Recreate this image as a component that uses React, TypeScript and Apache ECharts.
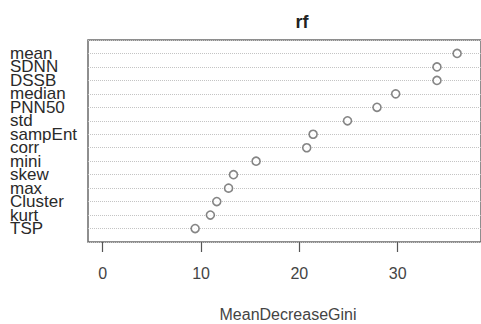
import React, { useEffect, useRef } from "react";
import * as echarts from "echarts";

const variables = ["mean", "SDNN", "DSSB", "median", "PNN50", "std", "sampEnt", "corr", "mini", "skew", "max", "Cluster", "kurt", "TSP"];
const giniValues = [36.05, 34.0, 34.0, 29.8, 27.9, 24.9, 21.4, 20.75, 15.6, 13.3, 12.8, 11.6, 10.95, 9.4];
const xTicks = [0, 10, 20, 30];

const FONT = "'Liberation Sans', Arial, sans-serif";

export default function App() {
  const ref = useRef<HTMLDivElement>(null);
  useEffect(() => {
    if (!ref.current) return;
    const chart = echarts.init(ref.current, null, { renderer: "svg" });
    const n = variables.length;
    const data = variables.map((name, i) => [giniValues[i], n - i]);
    chart.setOption({
      animation: false,
      backgroundColor: "#ffffff",
      title: {
        text: "rf",
        left: 297,
        textAlign: "center",
        top: 8,
        textStyle: { fontFamily: FONT, fontWeight: "bold", fontSize: 18, color: "#222" },
      },
      grid: {
        left: 88,
        top: 40,
        width: 410,
        height: 202,
        show: true,
        borderColor: "#6a6a6a",
        borderWidth: 1.5,
        backgroundColor: "transparent",
      },
      xAxis: {
        type: "value",
        min: -1.5,
        max: 38.48,
        axisLine: { show: false },
        splitLine: { show: false },
        axisTick: {
          show: true,
          length: 10,
          customValues: xTicks,
          lineStyle: { color: "#555", width: 1.2 },
        },
        axisLabel: {
          customValues: xTicks,
          margin: 23,
          fontFamily: FONT,
          fontSize: 16,
          color: "#444",
        },
      },
      yAxis: {
        type: "value",
        min: 0,
        max: n + 1,
        interval: 1,
        axisLine: { show: false },
        axisTick: { show: false },
        axisLabel: {
          align: "left",
          margin: 78,
          fontFamily: FONT,
          fontSize: 17,
          color: "#2a2a2a",
          formatter: (v: number) => (v >= 1 && v <= n ? variables[n - v] : ""),
        },
        splitLine: {
          show: true,
          lineStyle: { color: "#c4c4c4", type: "dotted", width: 1 },
        },
      },
      graphic: [
        {
          type: "text",
          x: 288,
          y: 314,
          style: {
            text: "MeanDecreaseGini",
            align: "center",
            verticalAlign: "middle",
            fontFamily: FONT,
            fontSize: 16,
            fill: "#444",
          },
        },
      ],
      series: [
        {
          type: "scatter",
          data,
          symbol: "circle",
          symbolSize: 8,
          itemStyle: { color: "#ffffff", borderColor: "#666", borderWidth: 1.6 },
        },
      ],
    });
    return () => chart.dispose();
  }, []);
  return (
    <div
      ref={ref}
      style={{ position: "fixed", left: 0, top: 0, width: 481, height: 324, background: "#fff" }}
    />
  );
}
